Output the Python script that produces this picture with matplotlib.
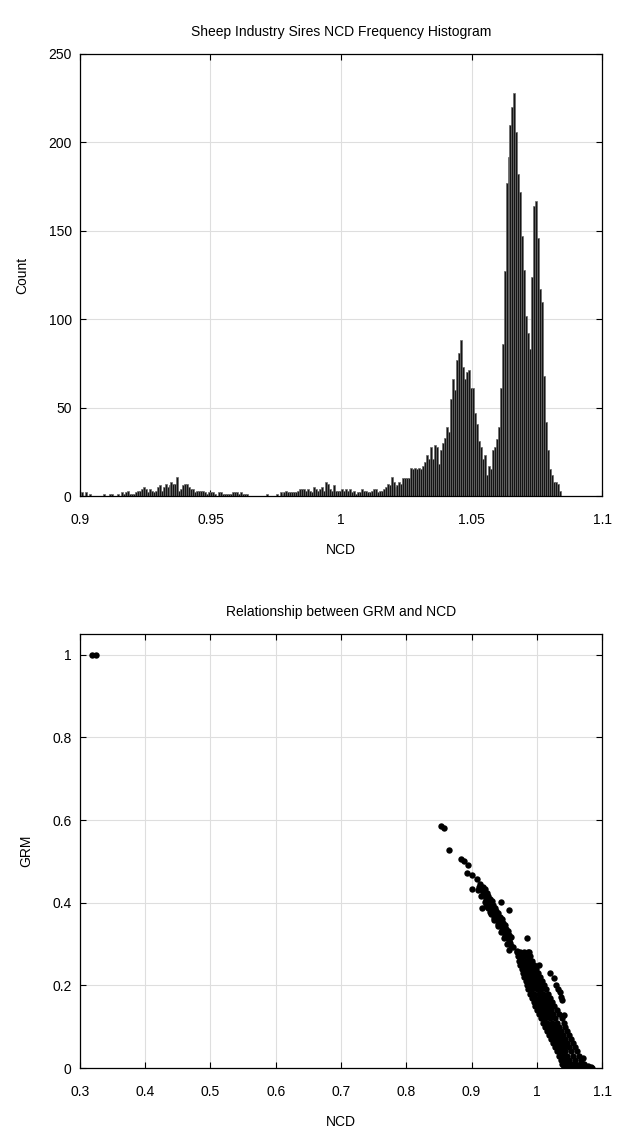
import numpy as np
import matplotlib
matplotlib.use("Agg")
import matplotlib.pyplot as plt

# histogram: counts per bin (left to right)
ncd_min = 0.9005
ncd_max = 1.0843
counts = [
    2, 0, 2, 0, 1, 0, 0, 0, 0, 0,
    0, 1, 0, 0, 1, 1, 0, 0, 1, 0,
    2, 1, 2, 3, 1, 1, 1, 2, 3, 3,
    4, 5, 4, 2, 4, 3, 2, 3, 5, 6,
    3, 5, 7, 5, 6, 8, 7, 7, 11, 3,
    4, 6, 7, 7, 5, 4, 4, 2, 3, 3,
    3, 3, 2, 1, 2, 2, 2, 1, 0, 2,
    2, 1, 1, 1, 1, 1, 2, 2, 2, 1,
    2, 1, 1, 1, 0, 0, 0, 0, 0, 0,
    0, 0, 0, 1, 0, 0, 0, 0, 1, 0,
    2, 1, 2, 3, 2, 2, 2, 2, 2, 3,
    4, 4, 4, 3, 4, 3, 2, 5, 4, 3,
    4, 5, 3, 8, 7, 4, 3, 6, 3, 3,
    3, 4, 3, 4, 3, 4, 2, 3, 1, 2,
    2, 4, 3, 3, 2, 2, 3, 4, 4, 2,
    3, 3, 4, 5, 7, 6, 11, 8, 5, 6,
    8, 7, 10, 10, 10, 10, 16, 15, 16, 15,
    16, 15, 17, 19, 23, 21, 28, 21, 29,
    28, 18, 26, 30, 33, 39, 36, 55, 66, 60,
    77, 81, 88, 73, 66, 70, 71, 61, 61, 47,
    41, 31, 28, 21, 23, 12, 17, 15, 26, 28,
    32, 39, 61, 86,
    127, 177, 192, 210, 220, 228, 206, 182, 172, 147,
    128, 102, 92, 83, 124, 164, 167, 146, 117, 110,
    68, 42, 26, 15, 12, 8, 8, 7, 3,
]

# scatter: outliers and the upper diagonal band
ncd_out = [0.318, 0.324, 0.853, 0.858, 0.866, 0.884, 0.888, 0.895, 0.893,
           0.901, 0.908, 0.900, 0.913, 0.916, 0.945, 0.958, 0.985, 0.988,
           0.970, 1.003, 1.020, 1.026, 1.029, 1.032, 1.035, 1.037, 1.038,
           0.994, 1.042, 1.071, 1.083, 0.958, 0.964]
grm_out = [1.0, 1.0, 0.586, 0.580, 0.527, 0.506, 0.500, 0.490, 0.472,
           0.468, 0.457, 0.433, 0.444, 0.386, 0.401, 0.383, 0.315, 0.280,
           0.284, 0.250, 0.230, 0.218, 0.202, 0.192, 0.183, 0.172, 0.165,
           0.173, 0.129, 0.024, 0.002, 0.285, 0.292]

ncd_band = [0.912, 0.914, 0.917, 0.919, 0.922, 0.924, 0.927, 0.929, 0.932,
            0.934, 0.937, 0.939, 0.942, 0.944, 0.947, 0.949, 0.952, 0.954,
            0.957, 0.959, 0.961,
            0.918, 0.923, 0.928, 0.933, 0.938, 0.943, 0.948, 0.953, 0.958,
            0.910, 0.915, 0.920, 0.925, 0.930, 0.935, 0.940, 0.945, 0.950,
            0.955,
            0.921, 0.926, 0.931, 0.936, 0.941, 0.946, 0.951, 0.956, 0.961,
            0.922, 0.928, 0.934, 0.940, 0.946, 0.952, 0.957]
grm_band = [0.439, 0.432, 0.425, 0.418, 0.410, 0.403, 0.396, 0.389, 0.381,
            0.374, 0.367, 0.360, 0.352, 0.345, 0.338, 0.331, 0.323, 0.316,
            0.309, 0.302, 0.296,
            0.437, 0.423, 0.408, 0.394, 0.379, 0.365, 0.350, 0.336, 0.321,
            0.430, 0.416, 0.401, 0.387, 0.373, 0.358, 0.343, 0.329, 0.315,
            0.300,
            0.432, 0.417, 0.403, 0.388, 0.374, 0.360, 0.345, 0.331, 0.316,
            0.392, 0.378, 0.362, 0.348, 0.332, 0.318, 0.305]

# dense lower band, row by row (GRM level, NCD values on that row)
blob_grm = [0.28, 0.27, 0.26, 0.25, 0.24, 0.23, 0.22, 0.21, 0.20, 0.19,
            0.18, 0.17, 0.16, 0.15, 0.14, 0.13, 0.12, 0.11, 0.10, 0.09,
            0.08, 0.07, 0.06, 0.05, 0.04, 0.03, 0.02, 0.01, 0.005, 0.00]
blob_ncd = [
    [0.970, 0.975, 0.980, 0.986],
    [0.971, 0.976, 0.981, 0.986, 0.990],
    [0.973, 0.978, 0.983, 0.988, 0.993],
    [0.975, 0.980, 0.985, 0.991, 0.996],
    [0.977, 0.982, 0.988, 0.994, 0.999],
    [0.979, 0.984, 0.990, 0.996, 1.002],
    [0.981, 0.987, 0.993, 0.999, 1.005],
    [0.983, 0.989, 0.995, 1.002, 1.008],
    [0.985, 0.991, 0.998, 1.005, 1.011],
    [0.987, 0.993, 1.000, 1.007, 1.014],
    [0.990, 0.996, 1.003, 1.010, 1.017],
    [0.992, 0.998, 1.005, 1.013, 1.020],
    [0.995, 1.001, 1.008, 1.016, 1.024],
    [0.998, 1.004, 1.011, 1.019, 1.027],
    [1.001, 1.007, 1.014, 1.022, 1.031],
    [1.004, 1.010, 1.017, 1.025, 1.034],
    [1.007, 1.013, 1.020, 1.028, 1.038],
    [1.010, 1.016, 1.023, 1.031, 1.041],
    [1.013, 1.019, 1.026, 1.034, 1.044],
    [1.016, 1.022, 1.029, 1.037, 1.047],
    [1.019, 1.025, 1.032, 1.040, 1.050],
    [1.022, 1.028, 1.035, 1.043, 1.053],
    [1.025, 1.031, 1.038, 1.046, 1.056],
    [1.028, 1.034, 1.041, 1.049, 1.059],
    [1.031, 1.037, 1.044, 1.052, 1.062],
    [1.034, 1.040, 1.047, 1.055, 1.065],
    [1.037, 1.043, 1.050, 1.058, 1.068],
    [1.039, 1.045, 1.052, 1.059, 1.066, 1.072],
    [1.041, 1.047, 1.054, 1.061, 1.068, 1.074, 1.078],
    [1.042, 1.048, 1.054, 1.060, 1.066, 1.072, 1.078, 1.085],
]

plt.rcParams['font.family'] = ['Liberation Sans', 'DejaVu Sans']
plt.rcParams['font.size'] = 10


def matlab_axes(ax):
    ax.grid(True, color='#dedede', linewidth=0.8)
    ax.set_axisbelow(True)
    ax.tick_params(direction='in', length=4, width=0.8, top=True, right=True,
                   labelsize=10)
    ax.tick_params(axis='x', pad=12)
    ax.tick_params(axis='y', pad=6)
    for s in ax.spines.values():
        s.set_linewidth(0.9)


fig = plt.figure(figsize=(6.2, 11.34), dpi=100)

# --- histogram
ax1 = fig.add_axes([0.129, 0.5626, 0.842, 0.3898])
edges = np.linspace(ncd_min, ncd_max, len(counts) + 1)
ax1.bar(edges[:-1], counts, width=np.diff(edges), align='edge',
        color='#151515', edgecolor='#6a6a6a', linewidth=0.5)
ax1.set_xlim(0.9, 1.1)
ax1.set_ylim(0, 250)
ax1.set_xticks([0.9, 0.95, 1.0, 1.05, 1.1])
ax1.set_xticklabels(['0.9', '0.95', '1', '1.05', '1.1'])
ax1.set_yticks([0, 50, 100, 150, 200, 250])
matlab_axes(ax1)
ax1.set_title('Sheep Industry Sires NCD Frequency Histogram', fontsize=10, pad=13)
ax1.set_xlabel('NCD', labelpad=12)
ax1.set_ylabel('Count', labelpad=14)

# --- scatter
ax2 = fig.add_axes([0.129, 0.0582, 0.842, 0.3827])
x_all = ncd_out + ncd_band + [x for row in blob_ncd for x in row]
y_all = grm_out + grm_band + [g for g, row in zip(blob_grm, blob_ncd) for _ in row]
ax2.plot(x_all, y_all, 'o', color='black', markersize=4.6, markeredgewidth=0)
ax2.set_xlim(0.3, 1.1)
ax2.set_ylim(0, 1.05)
ax2.set_xticks([0.3, 0.4, 0.5, 0.6, 0.7, 0.8, 0.9, 1.0, 1.1])
ax2.set_xticklabels(['0.3', '0.4', '0.5', '0.6', '0.7', '0.8', '0.9', '1', '1.1'])
ax2.set_yticks([0, 0.2, 0.4, 0.6, 0.8, 1.0])
ax2.set_yticklabels(['0', '0.2', '0.4', '0.6', '0.8', '1'])
matlab_axes(ax2)
ax2.set_title('Relationship between GRM and NCD', fontsize=10, pad=13)
ax2.set_xlabel('NCD', labelpad=12)
ax2.set_ylabel('GRM', labelpad=14)

fig.savefig('out.png', dpi=100)
